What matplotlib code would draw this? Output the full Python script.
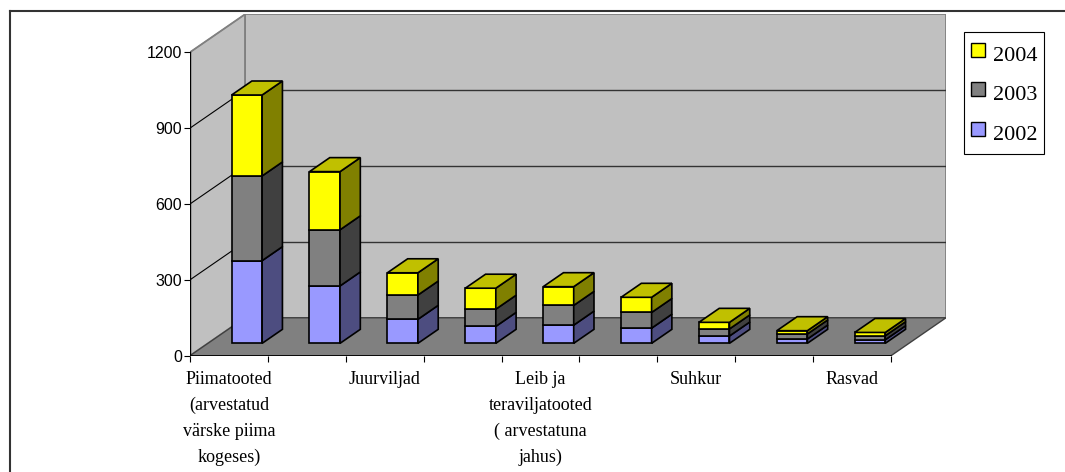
import matplotlib
matplotlib.use("Agg")
import matplotlib.pyplot as plt
from matplotlib.patches import Polygon
from matplotlib.lines import Line2D

# stacked values per product group, bottom to top: 2002, 2003, 2004
years = ["2002", "2003", "2004"]
v2002 = [327, 227, 95, 67, 72, 60, 29, 17, 14]
v2003 = [335, 222, 96, 68, 78, 62, 28, 20, 16]
v2004 = [320, 230, 88, 83, 74, 60, 26, 13, 13]
# only every other category name is printed on the axis
cat_labels = ["Piimatooted\n(arvestatud\nvärske piima\nkogeses)", "Juurviljad",
              "Leib ja\nteraviljatooted\n( arvestatuna\njahus)", "Suhkur", "Rasvad"]
yticks = [0, 300, 600, 900, 1200]

front_col = ["#9999FF", "#808080", "#FFFF00"]
side_col = ["#4D4D80", "#404040", "#808000"]
top_col = ["#7373BF", "#606060", "#C0C000"]

W, H = 1065, 472
n = len(v2002)
ymax = 1200
# depth of the 3d box in data units (x: categories, y: values)
DX = 55 / 77.9
DY = 150.0
D1, D2 = 0.326, 0.695   # bar front / back depth
HALF = 0.196            # half bar width


def sh(x, y, d):
    return (x + d * DX, y + d * DY)


fig = plt.figure(figsize=(W / 100, H / 100), dpi=100)
ax = fig.add_axes([190 / W, (H - 355.7) / H, 756 / W, 341.4 / H])
ax.set_xlim(0, n + DX)
ax.set_ylim(0, ymax + DY)
for s in ax.spines.values():
    s.set_visible(False)
ax.patch.set_visible(False)

# walls and floor
ax.add_patch(Polygon([sh(0, 0, 1), sh(n, 0, 1), sh(n, ymax, 1), sh(0, ymax, 1)],
                     closed=True, fc="#C0C0C0", ec="#808080", lw=1.3, zorder=1))
ax.add_patch(Polygon([(0, 0), sh(0, 0, 1), sh(0, ymax, 1), (0, ymax)],
                     closed=True, fc="#C0C0C0", ec="#808080", lw=1.3, zorder=1))
ax.add_patch(Polygon([(0, 0), (n, 0), sh(n, 0, 1), sh(0, 0, 1)],
                     closed=True, fc="#808080", ec="#404040", lw=1.0, zorder=2))

# gridlines on the back wall and side wall
for v in yticks[1:-1]:
    ax.plot([sh(0, v, 1)[0], sh(n, v, 1)[0]], [v + DY, v + DY], color="#333333", lw=1.0, zorder=3)
for v in yticks[1:]:
    ax.plot([0, DX], [v, v + DY], color="black" if v < ymax else "#808080", lw=0.8, zorder=3)

# front axis lines
ax.plot([0, 0], [0, ymax], color="black", lw=1.0, zorder=4)
ax.plot([0, n], [0, 0], color="black", lw=1.2, zorder=4)

# stacked 3d columns
series = [v2002, v2003, v2004]
for i in range(n):
    c = i + 0.5
    x0, x1 = c - HALF, c + HALF
    base = 0
    for k, vals in enumerate(series):
        top = base + vals[i]
        ax.add_patch(Polygon([sh(x0, base, D1), sh(x1, base, D1), sh(x1, top, D1), sh(x0, top, D1)],
                             closed=True, fc=front_col[k], ec="black", lw=1.2, zorder=10))
        ax.add_patch(Polygon([sh(x1, base, D1), sh(x1, base, D2), sh(x1, top, D2), sh(x1, top, D1)],
                             closed=True, fc=side_col[k], ec="black", lw=1.2, zorder=10))
        if k == len(series) - 1:
            ax.add_patch(Polygon([sh(x0, top, D1), sh(x1, top, D1), sh(x1, top, D2), sh(x0, top, D2)],
                                 closed=True, fc=top_col[k], ec="black", lw=1.2, zorder=10))
        base = top

# ticks
ax.set_yticks(yticks)
ax.set_yticklabels([str(v) for v in yticks], fontfamily="Liberation Sans", fontsize=11.5)
ax.tick_params(axis="y", direction="out", length=4.3, width=0.8, pad=1.5)
ax.set_xticks(range(n + 1))
ax.set_xticklabels([])
ax.set_xticks([0.5 + 2 * j for j in range(len(cat_labels))], minor=True)
ax.set_xticklabels(cat_labels, minor=True, fontfamily="Liberation Serif", fontsize=13, linespacing=1.68)
ax.tick_params(axis="x", which="major", direction="out", length=4.3, width=0.8)
ax.tick_params(axis="x", which="minor", length=0, pad=11)

# legend, newest year first
handles = [Line2D([], [], ls="none", marker="s", markersize=9.5, mfc=front_col[k], mec="black",
                  mew=1.0, label=years[k]) for k in (2, 1, 0)]
leg = ax.legend(handles=handles, loc="upper left", bbox_to_anchor=(964 / W, 1 - 32 / H),
                bbox_transform=fig.transFigure, borderaxespad=0, fancybox=False,
                edgecolor="black", framealpha=1,
                prop={"family": "Liberation Serif", "size": 16},
                handlelength=0.65, handleheight=1.65, handletextpad=0.35,
                labelspacing=0.47, borderpad=0.3)
leg.get_frame().set_linewidth(0.8)

# chart area border (left and top edges)
fig.add_artist(Line2D([10 / W, 10 / W], [0, 1 - 11 / H], transform=fig.transFigure, color="#333333", lw=1.5))
fig.add_artist(Line2D([10 / W, 1], [1 - 11 / H, 1 - 11 / H], transform=fig.transFigure, color="#333333", lw=1.5))

fig.savefig("out.png", dpi=100)
